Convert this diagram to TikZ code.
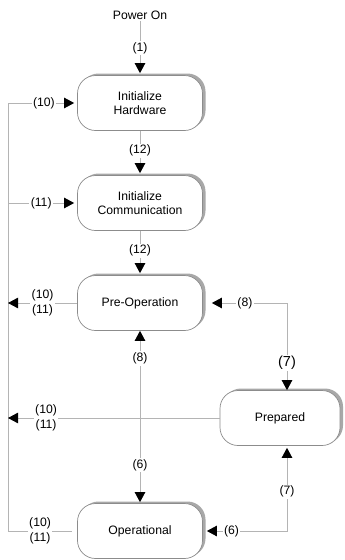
\documentclass[tikz,border=0pt]{standalone}
\usepackage{fontspec}
\setmainfont{Liberation Sans}
\usetikzlibrary{arrows.meta,shadows}
\definecolor{linegray}{HTML}{B4B4B4}
\definecolor{boxgray}{HTML}{8C8C8C}
\definecolor{shadowgray}{HTML}{A8A8A8}
\newcommand{\lblfont}{\fontsize{12.2}{14.5}\selectfont}
\newcommand{\bigfont}{\fontsize{14.5}{16}\selectfont}
\begin{document}
\begin{tikzpicture}[x=1pt,y=-1pt,
  >={Triangle[length=10pt,width=10.5pt,color=black]},
  state/.style={draw=boxgray, fill=white, rounded corners=18pt,
    minimum height=55pt, align=center, inner sep=0pt,
    font=\lblfont, line width=0.7pt,
    drop shadow={shadow xshift=3pt, shadow yshift=2pt, fill=shadowgray, opacity=1}},
  conn/.style={draw=linegray, line width=0.8pt},
  lab/.style={fill=white, inner sep=1.5pt, font=\lblfont, align=center}
]
\useasboundingbox (0,0) rectangle (345,560);

\node[state, minimum width=125pt] (hw) at (140,103) {Initialize\\Hardware};
\node[state, minimum width=125pt] (comm) at (140,203) {Initialize\\Communication};
\node[state, minimum width=125pt] (preop) at (140,303) {Pre-Operation};
\node[state, minimum width=120pt] (prep) at (280,418) {Prepared};
\node[state, minimum width=125pt] (op) at (140,531) {Operational};

\node[lab] (pw) at (140,15) {Power On};

\coordinate (bt) at (8,103);
\coordinate (bb) at (bt |- op.west);

% main chain
\draw[conn,->,shorten >=2pt] (pw.south) -- (hw.north) node[lab,pos=0.5]{(1)};
\draw[conn,->,shorten >=2pt] (hw.south) -- (comm.north) node[lab,pos=0.45]{(12)};
\draw[conn,->,shorten >=2pt] (comm.south) -- (preop.north) node[lab,pos=0.45]{(12)};

% left bus
\draw[conn] (bt) -- (bb) -- ([xshift=-5pt]op.west) node[lab,pos=0.5]{(10)\\(11)};
\draw[conn,->,shorten >=3pt] (bt) -- (hw.west) node[lab,pos=0.52]{(10)};
\draw[conn,->,shorten >=3pt] (bt |- comm.west) -- (comm.west) node[lab,pos=0.48]{(11)};
\draw[conn,->] (preop.west) -- (bt |- preop.west) node[lab,pos=0.5]{(10)\\(11)};
\draw[conn,->] (prep.west) -- (bt |- prep.west) node[lab,pos=0.82]{(10)\\(11)};

% right side
\draw[conn,<->,shorten <=9pt] (preop.east) -| ([xshift=7pt]prep.north)
  node[lab,pos=0.25]{(8)} node[lab,pos=0.845,font=\bigfont]{(7)};
\draw[conn,<->,shorten <=4pt,shorten >=2pt] (op.east) -| ([xshift=7pt]prep.south)
  node[lab,pos=0.17]{(6)} node[lab,pos=0.73]{(7)};

% center
\draw[conn,<->,shorten >=1pt] (preop.south) -- (op.north)
  node[lab,pos=0.16]{(8)} node[lab,pos=0.78]{(6)};
\end{tikzpicture}
\end{document}
